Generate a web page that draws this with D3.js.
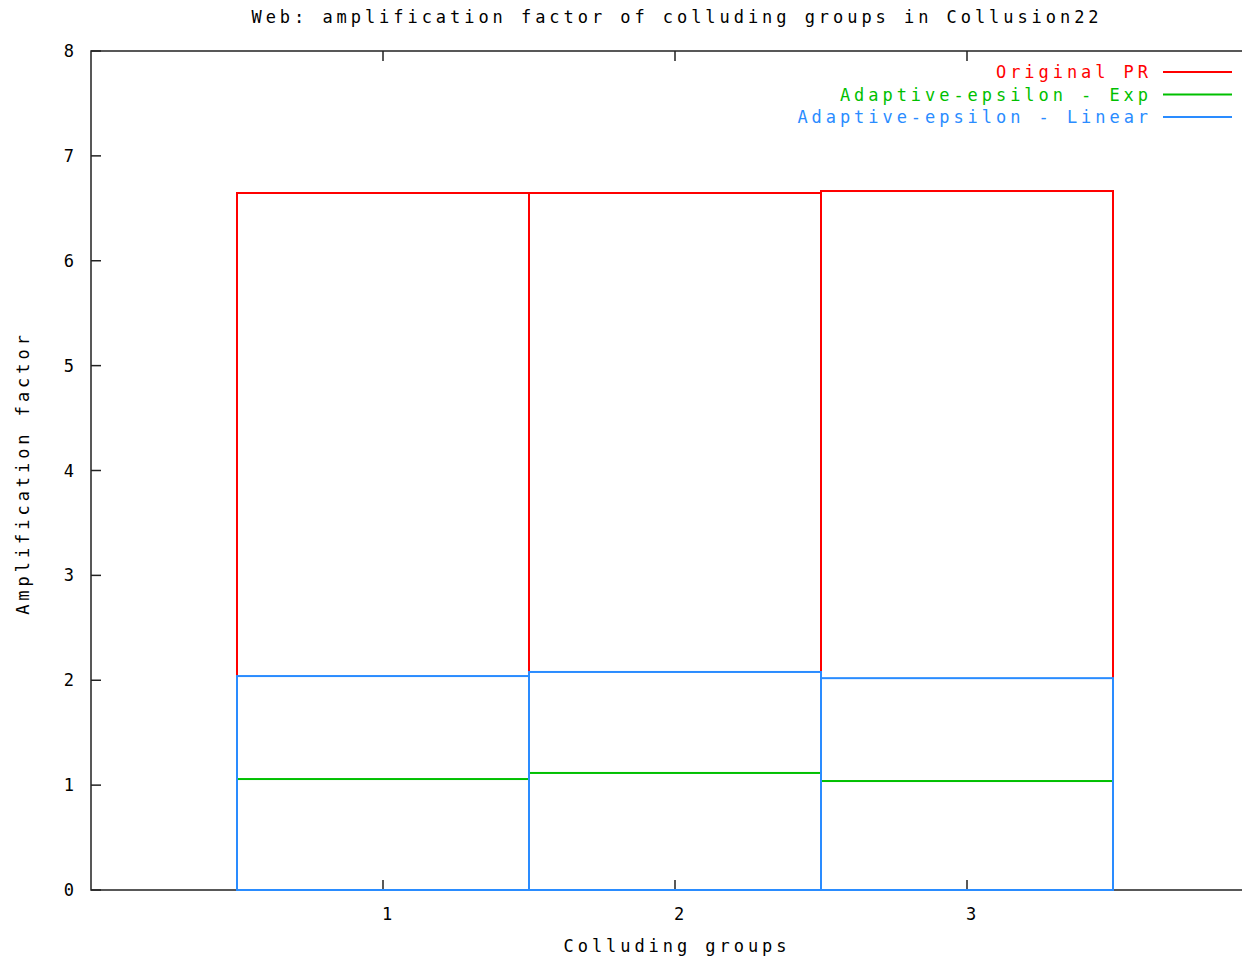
<!DOCTYPE html>
<html><head><meta charset="utf-8">
<script src="https://cdn.jsdelivr.net/npm/d3@7"></script>
<style>
body{margin:0;background:#fff;}
text{font-family:"DejaVu Sans Mono",monospace;font-size:17px;letter-spacing:3.95px;}
</style></head>
<body><svg id="c" width="1242" height="957"></svg>
<script>
const categories = [1, 2, 3];
const originalPR = [6.646, 6.646, 6.665];
const adaptiveExp = [1.058, 1.116, 1.039];
const adaptiveLinear = [2.040, 2.079, 2.020];
const yTicks = [0,1,2,3,4,5,6,7,8];
const xTicks = [1,2,3];
const seriesNames = ["Original PR", "Adaptive-epsilon - Exp", "Adaptive-epsilon - Linear"];
const seriesColors = ["#ff0000", "#00c000", "#2a8cff"];

(function(){
const svg = d3.select("#c");
const mLeft = 91, mTop = 51, mBottom = 890;
const x = d3.scaleLinear().domain([0, 4]).range([mLeft, 1259]);
const y = d3.scaleLinear().domain([0, 8]).range([mBottom, mTop]);

// frame
svg.append("path").attr("d", `M${x(4)},${mTop}H${mLeft}V${mBottom}H${x(4)}`)
  .attr("fill","none").attr("stroke","#222").attr("stroke-width",1.5);
// y ticks
yTicks.forEach(t=>{
  svg.append("line").attr("x1",mLeft).attr("x2",mLeft+10).attr("y1",y(t)).attr("y2",y(t)).attr("stroke","#222").attr("stroke-width",1.5);
  svg.append("text").attr("x",78).attr("y",y(t)+6).attr("text-anchor","end").text(t);
});
// x ticks (bottom & mirrored top)
xTicks.forEach(t=>{
  svg.append("line").attr("x1",x(t)).attr("x2",x(t)).attr("y1",mBottom).attr("y2",mBottom-10).attr("stroke","#222").attr("stroke-width",1.5);
  svg.append("line").attr("x1",x(t)).attr("x2",x(t)).attr("y1",mTop).attr("y2",mTop+10).attr("stroke","#222").attr("stroke-width",1.5);
  svg.append("text").attr("x",x(t)+6).attr("y",920).attr("text-anchor","middle").text(t);
});

const series = [originalPR, adaptiveExp, adaptiveLinear];
series.forEach((vals,si)=>{
  svg.append("g").selectAll("rect").data(categories).join("rect")
    .attr("x", (d)=>x(d-0.5)).attr("width", (d)=>x(d+0.5)-x(d-0.5))
    .attr("y", (d,i)=>y(vals[i])).attr("height", (d,i)=>y(0)-y(vals[i]))
    .attr("fill","none").attr("stroke",seriesColors[si]).attr("stroke-width",2);
});

// legend
seriesNames.forEach((n,i)=>{
  const ly = 72 + i*22.5;
  svg.append("text").attr("x",1152).attr("y",ly+6).attr("text-anchor","end").attr("fill",seriesColors[i]).text(n);
  svg.append("line").attr("x1",1163).attr("x2",1232).attr("y1",ly).attr("y2",ly).attr("stroke",seriesColors[i]).attr("stroke-width",2);
});

// titles
svg.append("text").attr("x",677).attr("y",23).attr("text-anchor","middle").text("Web: amplification factor of colluding groups in Collusion22");
svg.append("text").attr("x",677).attr("y",952).attr("text-anchor","middle").text("Colluding groups");
svg.append("text").attr("transform","translate(29,473) rotate(-90)").attr("text-anchor","middle").text("Amplification factor");
})();
</script></body></html>
